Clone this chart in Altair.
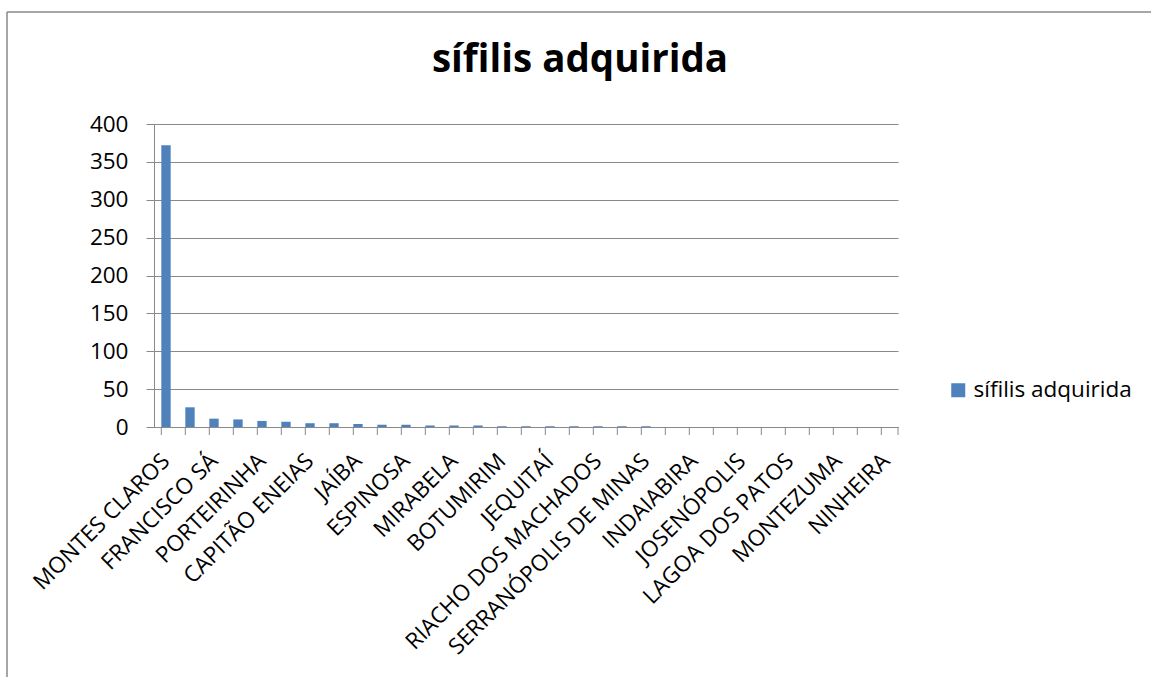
import altair as alt
import pandas as pd

# Casos de sífilis adquirida por município
municipios = [
    "MONTES CLAROS", "JANAÚBA", "FRANCISCO SÁ", "BOCAIÚVA", "PORTEIRINHA",
    "SÃO FRANCISCO", "CAPITÃO ENEIAS", "MATO VERDE", "JAÍBA", "CORAÇÃO DE JESUS",
    "ESPINOSA", "GRÃO MOGOL", "MIRABELA", "VERDELÂNDIA", "BOTUMIRIM",
    "GLAUCILÂNDIA", "JEQUITAÍ", "PAI PEDRO", "RIACHO DOS MACHADOS", "SÃO JOÃO DA PONTE",
    "SERRANÓPOLIS DE MINAS", "FRUTA DE LEITE", "INDAIABIRA", "ITACAMBIRA", "JOSENÓPOLIS",
    "JURAMENTO", "LAGOA DOS PATOS", "LONTRA", "MONTEZUMA", "NATALÂNDIA",
    "NINHEIRA",
]
casos = [
    372, 26, 11, 10, 8,
    7, 5, 5, 4, 3,
    3, 2, 2, 2, 1,
    1, 1, 1, 1, 1,
    1, 0, 0, 0, 0,
    0, 0, 0, 0, 0,
    0,
]
serie = "sífilis adquirida"
y_ticks = [0, 50, 100, 150, 200, 250, 300, 350, 400]

df = pd.DataFrame({"municipio": municipios, "casos": casos, "serie": serie})

FONT = "Open Sans"
GRAY = "#898989"
W, H = 744, 303
LABEL_SIZE = 22.5

x_scale = alt.Scale(domain=municipios, paddingInner=0.61, paddingOuter=0.305)
y_scale = alt.Scale(domain=[0, 400])

bars = alt.Chart(df).mark_bar(color="#4F81BD").encode(
    x=alt.X(
        "municipio:N",
        scale=x_scale,
        sort=municipios,
        title=None,
        axis=alt.Axis(
            values=municipios[::2],
            labelAngle=-45,
            labelAlign="right",
            labelBaseline="middle",
            labelPadding=30,
            labelFontSize=LABEL_SIZE,
            labelFont=FONT,
            labelColor="#000000",
            ticks=False,
            domainColor=GRAY,
            labelOverlap=False,
            labelLimit=400,
        ),
    ),
    y=alt.Y(
        "casos:Q",
        scale=y_scale,
        title=None,
        axis=alt.Axis(
            values=y_ticks,
            tickSize=8,
            tickColor=GRAY,
            domainColor=GRAY,
            gridColor=GRAY,
            labelFontSize=LABEL_SIZE,
            labelFont=FONT,
            labelColor="#000000",
            labelPadding=18,
        ),
    ),
    color=alt.Color(
        "serie:N",
        scale=alt.Scale(domain=[serie], range=["#4F81BD"]),
        legend=alt.Legend(
            title=None,
            orient="none",
            legendX=793,
            legendY=255,
            symbolType="square",
            symbolSize=196,
            symbolStrokeWidth=0,
            labelFontSize=LABEL_SIZE,
            labelFont=FONT,
            labelColor="#000000",
            labelLimit=400,
        ),
    ),
)

# Category tick marks sit on the band boundaries
ticks = alt.Chart(df).mark_rule(color=GRAY).encode(
    x=alt.X("municipio:N", scale=x_scale, sort=municipios, bandPosition=0),
    y=alt.value(H),
    y2=alt.value(H + 8),
)
last_tick = alt.Chart(df.head(1)).mark_rule(color=GRAY).encode(
    x=alt.value(W), y=alt.value(H), y2=alt.value(H + 8)
)

title = alt.Chart(df.head(1)).mark_text(
    text=serie, font=FONT, fontSize=38.5, fontWeight="bold", color="#000000",
    align="center", baseline="alphabetic",
).encode(x=alt.value(426), y=alt.value(-52))

# Chart-area border (left and top edges)
frame_left = alt.Chart(df.head(1)).mark_rule(color=GRAY, strokeWidth=1.5).encode(
    x=alt.value(-147), y=alt.value(-112), y2=alt.value(560)
)
frame_top = alt.Chart(df.head(1)).mark_rule(color=GRAY, strokeWidth=1.5).encode(
    x=alt.value(-147), x2=alt.value(1010), y=alt.value(-112)
)

chart = alt.layer(bars, ticks, last_tick, title, frame_left, frame_top).properties(
    width=W,
    height=H,
    autosize=alt.AutoSizeParams(type="none"),
    padding={"left": 154, "top": 124, "right": 253, "bottom": 250},
    background="#ffffff",
).configure_view(stroke=None).configure_axis(gridWidth=1, domainWidth=1, tickWidth=1)

chart.save("out.html", embed_options={"renderer": "svg", "actions": False})
